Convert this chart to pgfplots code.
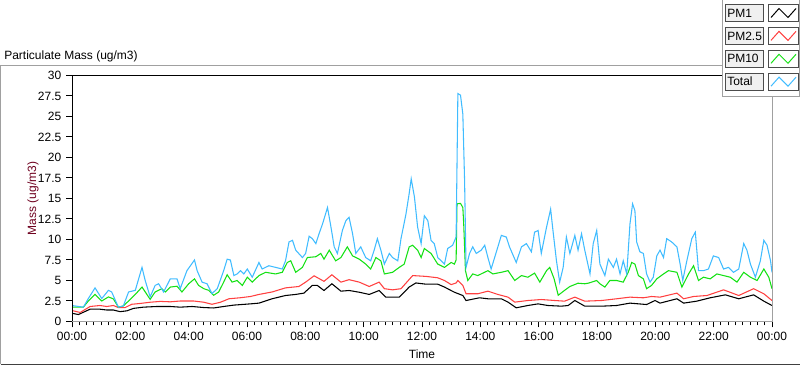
\documentclass[border=0pt]{standalone}
\usepackage{pgfplots}
\pgfplotsset{compat=1.18}
\usepackage{fontspec}
\setmainfont{Liberation Sans}
\definecolor{pmone}{RGB}{0,0,0}
\definecolor{pmtwo}{RGB}{255,64,64}
\definecolor{pmten}{RGB}{20,225,20}
\definecolor{pmtot}{RGB}{64,188,255}
\definecolor{ylab}{RGB}{110,0,30}
\definecolor{fgray}{RGB}{160,160,160}
\definecolor{boxfill}{RGB}{240,240,240}
\begin{document}
\begin{tikzpicture}[font=\fontsize{9}{11}\selectfont]
\begin{scope}[x=0.75pt,y=0.75pt]
\useasboundingbox (0,0) rectangle (800,365);
% outer frame
\draw[fgray,line width=0.75pt] (0.5,300) -- (722,300);
\draw[fgray,line width=0.75pt] (0.5,300) -- (0.5,1);
\draw[black!75,line width=0.75pt] (0.5,1) -- (800,1);
\node[anchor=base west,inner sep=0pt] at (4,305.5) {Particulate Mass (ug/m3)};
\end{scope}
\begin{axis}[
  at={(54pt,33pt)}, anchor=south west, scale only axis,
  width=525pt, height=184.5pt,
  xmin=0, xmax=24, ymin=0, ymax=30,
  axis line style={draw=none},
  tick align=outside, tick pos=left,
  xtick={0,2,4,6,8,10,12,14,16,18,20,22,24},
  xticklabels={00:00,02:00,04:00,06:00,08:00,10:00,12:00,14:00,16:00,18:00,20:00,22:00,00:00},
  minor x tick num=7,
  ytick={0,2.5,5,7.5,10,12.5,15,17.5,20,22.5,25,27.5,30},
  major tick length=4.5pt, minor tick length=3pt,
  every tick/.style={black,line width=0.75pt},
  /pgf/number format/assume math mode=true,
  /pgf/number format/fixed,
  ticklabel style={font=\fontsize{9}{11}\selectfont},
  xlabel={Time}, ylabel={Mass (ug/m3)},
  xlabel style={at={(axis description cs:0.5,-0.134)},anchor=center},
  ylabel style={at={(axis description cs:-0.0557,0.5)},anchor=center,color=ylab},
  clip=true,
]
\addplot[pmone,line width=0.8pt] coordinates {(0,1.0)(0.22,0.85)(0.62,1.5)(0.96,1.5)(1.19,1.4)(1.42,1.4)(1.65,1.2)(1.88,1.3)(2.11,1.6)(2.45,1.75)(2.91,1.83)(3.37,1.83)(3.71,1.75)(4.12,1.83)(4.52,1.7)(4.86,1.65)(5.20,1.83)(5.55,2.0)(6.12,2.15)(6.41,2.24)(6.86,2.77)(7.32,3.17)(7.67,3.3)(7.95,3.46)(8.24,4.4)(8.41,4.4)(8.64,3.78)(8.91,4.6)(9.22,3.7)(9.50,3.78)(9.85,3.57)(10.19,3.3)(10.53,3.78)(10.76,2.97)(11.22,2.97)(11.56,4.2)(11.79,4.7)(12.14,4.55)(12.54,4.55)(12.77,4.2)(13.11,3.57)(13.40,3.17)(13.51,2.56)(13.97,2.89)(14.26,2.77)(14.72,2.77)(14.95,2.36)(15.23,1.67)(15.63,1.95)(15.98,2.15)(16.32,1.95)(16.78,1.87)(17.01,1.95)(17.24,2.56)(17.58,1.87)(18.16,1.87)(18.67,1.95)(19.13,2.24)(19.70,2.07)(19.99,2.56)(20.16,2.24)(20.74,2.77)(20.97,2.24)(21.42,2.48)(21.88,2.89)(22.40,3.25)(22.86,2.77)(23.37,3.25)(23.72,2.48)(24.0,1.95)};
\addplot[pmtwo,line width=0.8pt] coordinates {(0,1.34)(0.28,1.1)(0.62,1.83)(0.96,1.95)(1.19,1.83)(1.42,1.95)(1.59,1.7)(1.82,1.7)(2.05,2.1)(2.34,2.2)(2.68,2.35)(3.03,2.45)(3.37,2.4)(3.71,2.5)(4.17,2.5)(4.52,2.35)(4.80,2.1)(5.09,2.35)(5.38,2.77)(5.78,2.9)(6.12,3.05)(6.41,3.3)(6.86,3.6)(7.32,4.1)(7.78,4.27)(8.01,4.8)(8.30,5.57)(8.64,4.9)(8.91,5.7)(9.22,4.8)(9.50,5.1)(9.85,4.8)(10.19,4.27)(10.53,4.8)(10.71,4.0)(10.99,3.86)(11.28,4.0)(11.68,5.6)(12.14,5.5)(12.54,5.33)(12.77,5.0)(13.00,4.5)(13.17,4.7)(13.23,5.0)(13.40,4.4)(13.51,3.38)(13.91,3.38)(14.26,3.7)(14.60,3.3)(14.95,2.97)(15.18,2.36)(15.63,2.56)(16.09,2.68)(16.55,2.56)(16.89,2.48)(17.24,2.97)(17.58,2.48)(18.16,2.56)(18.67,2.77)(19.13,2.97)(19.59,2.89)(19.87,3.05)(20.16,2.97)(20.74,3.46)(20.97,2.77)(21.31,3.05)(21.77,3.17)(22.34,3.86)(22.86,3.17)(23.37,4.0)(23.72,3.38)(24.0,2.56)};
\addplot[pmten,line width=0.8pt] coordinates {(0,1.75)(0.39,1.75)(0.56,2.5)(0.79,3.3)(1.02,2.5)(1.25,3.0)(1.42,2.75)(1.59,1.75)(1.76,1.9)(1.94,2.5)(2.17,3.3)(2.40,4.2)(2.68,2.7)(2.85,3.6)(3.08,4.0)(3.20,3.6)(3.37,4.2)(3.60,4.3)(3.77,3.6)(4.00,4.6)(4.20,5.2)(4.34,4.4)(4.52,4.0)(4.69,3.8)(4.86,3.2)(5.03,3.6)(5.20,4.8)(5.32,5.7)(5.49,4.8)(5.66,5.0)(5.84,4.4)(6.01,5.4)(6.18,4.8)(6.41,5.6)(6.64,6.0)(6.98,5.8)(7.21,6.0)(7.38,7.2)(7.50,7.4)(7.67,6.0)(7.90,6.6)(8.07,7.8)(8.36,7.9)(8.53,8.3)(8.64,7.6)(8.82,8.7)(9.04,7.4)(9.22,7.8)(9.44,9.1)(9.62,8.0)(9.85,7.6)(10.07,7.0)(10.24,6.4)(10.42,7.8)(10.59,7.4)(10.71,5.8)(10.99,6.0)(11.22,6.6)(11.39,7.0)(11.56,9.1)(11.68,9.3)(11.85,8.7)(11.97,7.8)(12.08,8.9)(12.31,8.3)(12.54,7.0)(12.77,6.6)(13.00,7.2)(13.11,7.0)(13.17,7.5)(13.20,14.35)(13.32,14.4)(13.40,13.9)(13.43,11.9)(13.49,6.2)(13.57,5.0)(13.74,5.8)(13.91,5.6)(14.26,6.2)(14.43,5.8)(14.72,6.0)(14.95,6.2)(15.18,5.0)(15.41,5.6)(15.63,5.4)(15.86,5.9)(16.04,4.8)(16.27,6.2)(16.38,6.6)(16.53,5.2)(16.67,3.2)(16.89,3.8)(17.07,4.27)(17.35,4.67)(17.58,4.6)(17.70,4.67)(17.99,5.0)(18.10,4.6)(18.27,4.2)(18.44,5.0)(18.67,5.0)(18.90,4.8)(19.07,6.0)(19.19,7.2)(19.30,7.0)(19.42,5.6)(19.59,5.2)(19.70,4.0)(19.87,4.4)(20.05,5.2)(20.28,5.8)(20.45,6.2)(20.74,6.0)(20.91,4.2)(21.14,5.8)(21.31,6.8)(21.48,5.0)(21.65,5.4)(21.88,5.2)(22.11,5.8)(22.34,5.6)(22.57,5.4)(22.80,4.8)(23.03,6.0)(23.26,5.4)(23.49,5.0)(23.72,6.4)(23.89,5.4)(24.0,4.0)};
\addplot[pmtot,line width=0.8pt] coordinates {(0,1.95)(0.39,1.75)(0.56,2.8)(0.79,4.1)(1.02,2.8)(1.25,3.8)(1.36,3.6)(1.59,1.75)(1.76,1.9)(1.94,3.6)(2.17,3.8)(2.40,6.6)(2.51,5.0)(2.68,3.0)(2.85,4.4)(2.97,4.6)(3.14,3.6)(3.37,5.2)(3.60,5.2)(3.71,4.0)(3.94,6.2)(4.06,6.8)(4.20,7.5)(4.29,6.2)(4.46,4.8)(4.63,4.6)(4.80,3.4)(4.98,4.0)(5.20,6.2)(5.32,7.6)(5.43,7.5)(5.55,5.6)(5.66,5.8)(5.78,6.2)(5.89,5.8)(6.01,6.4)(6.18,5.4)(6.41,7.2)(6.52,6.4)(6.75,6.8)(6.98,6.6)(7.21,6.4)(7.32,7.4)(7.44,9.7)(7.56,9.9)(7.67,8.7)(7.90,7.8)(8.01,8.3)(8.13,10.4)(8.24,10.1)(8.36,9.5)(8.47,10.7)(8.59,11.9)(8.76,13.9)(8.87,11.7)(8.99,9.1)(9.10,8.3)(9.27,11.1)(9.39,12.3)(9.50,12.7)(9.62,10.7)(9.73,8.3)(9.90,9.1)(10.07,7.8)(10.24,7.4)(10.36,8.7)(10.47,10.1)(10.59,8.7)(10.71,7.0)(10.88,8.3)(10.99,7.8)(11.17,7.4)(11.28,10.1)(11.45,13.1)(11.56,15.6)(11.63,17.4)(11.74,15.2)(11.85,11.5)(11.97,9.5)(12.08,12.9)(12.20,12.3)(12.31,9.9)(12.42,9.5)(12.54,7.8)(12.77,7.0)(12.88,8.9)(13.05,9.3)(13.17,10.3)(13.23,27.8)(13.32,27.6)(13.40,25.3)(13.46,17.2)(13.51,6.6)(13.63,8.3)(13.74,9.1)(13.86,8.3)(14.03,8.7)(14.15,9.3)(14.26,7.8)(14.37,6.4)(14.55,8.5)(14.72,10.5)(14.89,10.3)(15.00,9.1)(15.23,7.2)(15.41,9.1)(15.58,9.5)(15.75,8.5)(15.86,10.9)(15.98,11.1)(16.09,8.3)(16.27,11.5)(16.41,13.7)(16.49,11.1)(16.61,7.4)(16.72,4.8)(16.84,6.6)(16.95,10.3)(17.07,8.3)(17.24,10.5)(17.35,8.7)(17.47,10.7)(17.58,8.7)(17.76,5.8)(17.87,9.5)(17.99,11.1)(18.10,7.0)(18.27,5.6)(18.39,7.6)(18.56,6.6)(18.67,7.6)(18.79,5.8)(18.90,7.4)(19.02,5.8)(19.13,11.9)(19.22,14.35)(19.30,13.5)(19.36,9.7)(19.47,8.5)(19.59,8.3)(19.70,5.8)(19.82,4.8)(19.93,5.4)(20.05,8.0)(20.16,8.7)(20.28,7.8)(20.39,10.1)(20.56,9.7)(20.74,9.1)(20.85,7.0)(20.94,5.0)(21.08,7.4)(21.25,10.1)(21.37,10.9)(21.48,6.2)(21.65,6.2)(21.82,6.4)(21.99,8.0)(22.17,7.8)(22.34,6.4)(22.51,6.6)(22.68,6.0)(22.86,6.4)(23.03,9.5)(23.14,8.7)(23.26,7.0)(23.43,5.4)(23.60,7.4)(23.72,9.9)(23.83,9.3)(23.95,7.4)(24.0,6.0)};
\end{axis}
\begin{scope}[x=0.75pt,y=0.75pt]
% plot frame
\draw[black,line width=0.75pt] (72,44) -- (72,290) -- (722,290);
\draw[fgray,line width=0.75pt] (72,44) -- (772,44) -- (772,290);
% legend
\draw[fgray,line width=0.75pt,fill=white] (722,365) -- (722,269) -- (799.5,269) -- (799.5,365);
\foreach \t/\lab/\col in {4/PM1/pmone,26.9/PM2.5/pmtwo,49.8/PM10/pmten,72.7/Total/pmtot}{
  \pgfmathsetmacro{\yt}{365-\t}
  \pgfmathsetmacro{\yb}{365-\t-17}
  \draw[black!70,fill=boxfill,line width=0.75pt] (725,\yb) rectangle (763,\yt);
  \node[anchor=west,inner sep=0pt] at (727,{(\yt+\yb)/2}) {\lab};
  \draw[black!70,fill=white,line width=0.75pt] (768,\yb) rectangle (798,\yt);
  \draw[\col,line width=0.75pt] (771,\yb+4) -- (779,\yt-4) -- (788,\yb+4) -- (796,\yt-4);
}
\end{scope}
\end{tikzpicture}
\end{document}
